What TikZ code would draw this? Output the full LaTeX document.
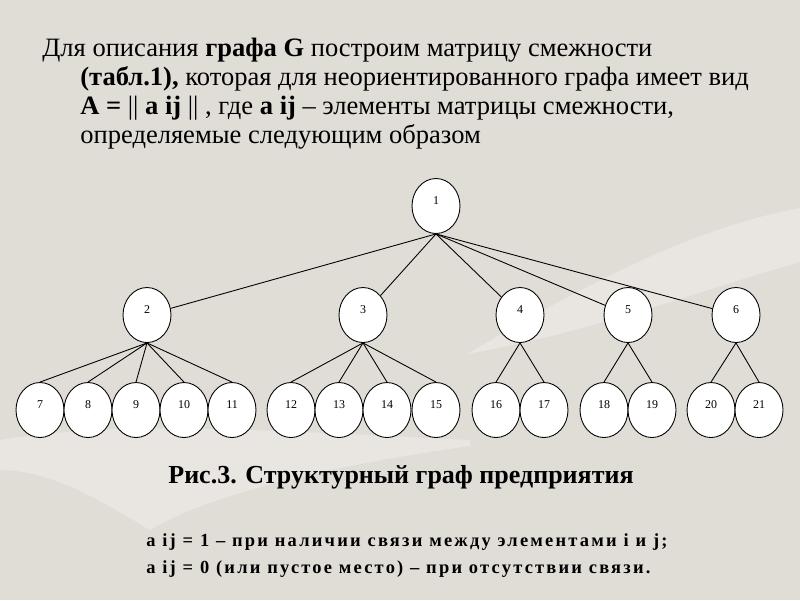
\documentclass[tikz,border=0pt]{standalone}
\usepackage{fontspec}
\setmainfont{Liberation Serif}
\newfontfamily\spacedserif{Liberation Serif}[LetterSpace=12]
\usetikzlibrary{shapes.geometric}
\definecolor{slidebg}{RGB}{224,221,215}
\definecolor{swoosh}{RGB}{233,230,225}

\begin{document}
\begin{tikzpicture}[x=0.02cm, y=-0.02cm, font=\fontsize{6.8}{8}\selectfont]
	\tikzstyle{round} = [draw=black, ellipse, fill=white, line width=0.5pt, minimum width=0.96cm, minimum height=1.1cm, inner sep=0pt, text height=4.6pt, text depth=6.8pt]
	\tikzstyle{invis} = [draw=none, inner sep=0pt]
	\tikzstyle{intro} = [invis, anchor=base west, font=\fontsize{15.1}{16.5}\selectfont]
	\tikzstyle{rule} = [invis, anchor=base west, font=\spacedserif\bfseries\fontsize{10.5}{12}\selectfont]
	
	% background
	\fill[slidebg] (0, 0) rectangle (800, 600);
	\useasboundingbox (0, 0) rectangle (800, 600);
	\fill[swoosh] (467, 354) .. controls (560, 300) and (680, 230) .. (800, 208) -- (800, 262) .. controls (700, 290) and (600, 330) .. (467, 354) -- cycle;
	\fill[swoosh] (0, 440) .. controls (120, 420) and (260, 430) .. (470, 440) -- (470, 446) .. controls (300, 470) and (200, 500) .. (150, 530) .. controls (100, 500) and (50, 470) .. (0, 470) -- cycle;
	
	\node[intro]	at (42, 56)		(l1)	{Для описания \textbf{графа G} построим матрицу смежности};
	\node[intro]	at (80, 85)		(l2)	{\textbf{(табл.1),} которая для неориентированного графа имеет вид};
	\node[intro]	at (80, 114)	(l3)	{\textbf{A =} || \textbf{a ij} || , где \textbf{a ij} – элементы матрицы смежности,};
	\node[intro]	at (80, 143)	(l4)	{определяемые следующим образом};
	
	\node[round]	at (436, 206)	(v1)	{1};
	\node[round]	at (147, 315)	(v2)	{2};
	\node[round]	at (363, 315)	(v3)	{3};
	\node[round]	at (520, 315)	(v4)	{4};
	\node[round]	at (628, 315)	(v5)	{5};
	\node[round]	at (736, 315)	(v6)	{6};
	\node[round]	at (40, 410)	(v7)	{7};
	\node[round]	at (88, 410)	(v8)	{8};
	\node[round]	at (136, 410)	(v9)	{9};
	\node[round]	at (184, 410)	(v10)	{10};
	\node[round]	at (232, 410)	(v11)	{11};
	\node[round]	at (291, 410)	(v12)	{12};
	\node[round]	at (339, 410)	(v13)	{13};
	\node[round]	at (387, 410)	(v14)	{14};
	\node[round]	at (436, 410)	(v15)	{15};
	\node[round]	at (496, 410)	(v16)	{16};
	\node[round]	at (544, 410)	(v17)	{17};
	\node[round]	at (604, 410)	(v18)	{18};
	\node[round]	at (652, 410)	(v19)	{19};
	\node[round]	at (711, 410)	(v20)	{20};
	\node[round]	at (759, 410)	(v21)	{21};
	
	\node[invis, anchor=base]	at (401, 483)	(cap)	{\bfseries\fontsize{14.8}{16}\selectfont Рис.3. Структурный граф предприятия};
	\node[rule]		at (146, 546)	(r1)	{a ij = 1 – при наличии связи между элементами i и j;};
	\node[rule]		at (146, 573)	(r2)	{a ij = 0 (или пустое место) – при отсутствии связи.};
	
	\path[line width=0.5pt]
	(v1.south)	edge	(v2)
	(v1.south)	edge	(v3)
	(v1.south)	edge	(v4)
	(v1.south)	edge	(v5)
	(v1.south)	edge	(v6)
	(v2.south)	edge	(v7.north)
	(v2.south)	edge	(v8.north)
	(v2.south)	edge	(v9.north)
	(v2.south)	edge	(v10.north)
	(v2.south)	edge	(v11.north)
	(v3.south)	edge	(v12.north)
	(v3.south)	edge	(v13.north)
	(v3.south)	edge	(v14.north)
	(v3.south)	edge	(v15.north)
	(v4.south)	edge	(v16.north)
	(v4.south)	edge	(v17.north)
	(v5.south)	edge	(v18.north)
	(v5.south)	edge	(v19.north)
	(v6.south)	edge	(v20.north)
	(v6.south)	edge	(v21.north);
\end{tikzpicture}
\end{document}
